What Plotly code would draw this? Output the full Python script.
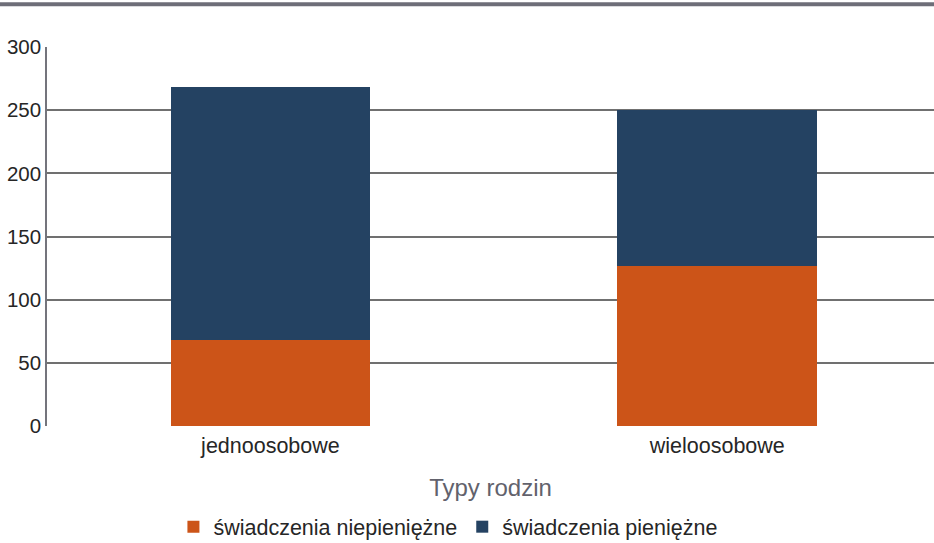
import plotly.graph_objects as go

# typy rodzin i wartości
kategorie = ['jednoosobowe', 'wieloosobowe']
niepieniezne = [68, 127]
pieniezne = [200, 123]
serie = ['świadczenia niepieniężne', 'świadczenia pieniężne']
tick_vals = [0, 50, 100, 150, 200, 250, 300]

fig = go.Figure()
fig.add_trace(go.Bar(x=kategorie, y=niepieniezne, name=serie[0],
                     marker=dict(color='rgb(204,84,24)', line_width=0)))
fig.add_trace(go.Bar(x=kategorie, y=pieniezne, name=serie[1],
                     marker=dict(color='rgb(36,66,98)', line_width=0)))

fig.update_layout(
    width=934, height=543,
    barmode='stack',
    bargap=0.553,
    plot_bgcolor='white',
    paper_bgcolor='white',
    margin=dict(l=47, r=0, t=47, b=117),
    font=dict(family='Liberation Sans, Arial, sans-serif', size=16, color='#262626'),
    xaxis=dict(
        range=[-0.5, 1.485],
        title=dict(text='Typy rodzin', font=dict(size=24, color='#62626c'), standoff=22),
        showgrid=False, ticks='', tickfont=dict(size=21.5), ticklabelstandoff=4,
    ),
    yaxis=dict(
        range=[0, 300], tickvals=tick_vals,
        showgrid=True, gridcolor='#707070', gridwidth=1.5,
        showline=True, linecolor='#74747c', linewidth=1.5,
        ticks='', tickfont=dict(size=20.5), zeroline=False,
    ),
    legend=dict(orientation='h', x=0.452, xanchor='center',
                yref='container', y=0.03, yanchor='middle',
                font=dict(size=21.5), traceorder='normal', itemwidth=30),
    shapes=[dict(type='line', xref='paper', yref='paper', x0=-0.06, x1=1.0,
                 y0=1.113, y1=1.113, line=dict(color='#6e6e78', width=4))],
)

# usuń domyślny margines strony, żeby wykres zaczynał się w rogu okna
fig.write_html("out.html", config={'displayModeBar': False},
               post_script="document.body.style.margin='0px';")
